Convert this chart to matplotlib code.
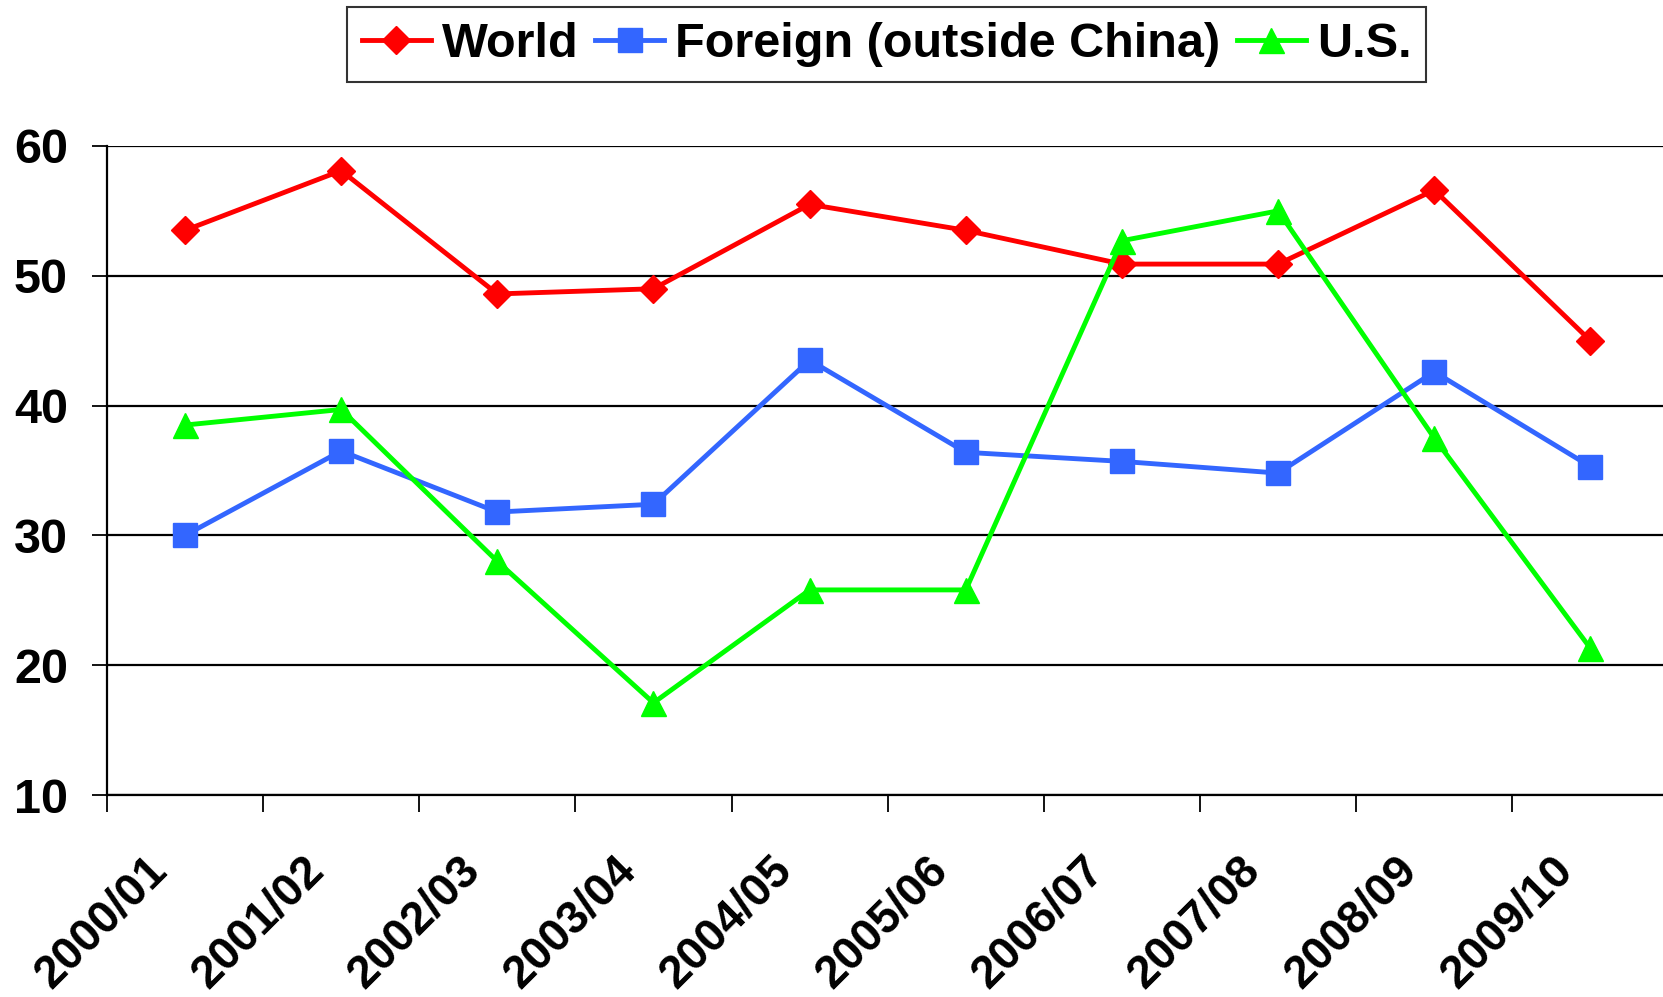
import matplotlib
matplotlib.use("Agg")
from matplotlib import pyplot as plt
from matplotlib.transforms import ScaledTranslation

seasons = ['2000/01', '2001/02', '2002/03', '2003/04', '2004/05',
           '2005/06', '2006/07', '2007/08', '2008/09', '2009/10']
world = [53.5, 58.1, 48.6, 49.0, 55.5, 53.5, 50.9, 50.9, 56.6, 45.0]
foreign = [30.0, 36.5, 31.8, 32.4, 43.5, 36.4, 35.7, 34.8, 42.6, 35.3]
us = [38.5, 39.7, 28.0, 17.1, 25.8, 25.8, 52.7, 55.0, 37.5, 21.3]

plt.rcParams['font.family'] = ['Liberation Sans', 'DejaVu Sans']
plt.rcParams['font.weight'] = 'bold'

fig = plt.figure(figsize=(16.63, 9.97), dpi=100)
ax = fig.add_axes([0.0643, 0.2026, 0.939, 0.651])

x = [i + 0.5 for i in range(len(seasons))]
ax.plot(x, world, color='#FF0000', lw=3.5, marker='D', ms=14, label='World')
ax.plot(x, foreign, color='#3366FF', lw=3.5, marker='s', ms=17,
        label='Foreign (outside China)')
ax.plot(x, us, color='#00FF00', lw=3.5, marker='^', ms=18, label='U.S.')

ax.set_xlim(0, len(seasons))
ax.set_ylim(10, 60)
ax.set_yticks([10, 20, 30, 40, 50, 60])
ax.grid(axis='y', color='black', lw=1.6)
ax.set_axisbelow(True)

for s in ['top', 'right']:
    ax.spines[s].set_visible(False)
for s in ['left', 'bottom']:
    ax.spines[s].set_linewidth(1.6)

ax.tick_params(axis='y', length=11, width=1.3, pad=17, labelsize=35)

# tick marks between categories, labels at category centres
ax.set_xticks(range(len(seasons) + 1))
ax.set_xticklabels([])
ax.tick_params(axis='x', which='major', length=12, width=1.3, direction='out')
ax.set_xticks(x, minor=True)
ax.set_xticklabels(seasons, minor=True, rotation=45, ha='right', va='top',
                   rotation_mode='anchor', fontsize=33)
ax.tick_params(axis='x', which='minor', length=0, pad=38)
off = ScaledTranslation(-0.40, 0, fig.dpi_scale_trans)
for lab in ax.get_xticklabels(minor=True):
    lab.set_transform(lab.get_transform() + off)

leg = fig.legend(loc='upper center', bbox_to_anchor=(0.5331, 0.9926), ncol=3,
                 fontsize=35, frameon=True, fancybox=False, edgecolor='black',
                 handlelength=1.42, handletextpad=0.22, columnspacing=0.35,
                 borderpad=0.3, borderaxespad=0)
leg.get_frame().set_linewidth(1.5)

fig.savefig('out.png', dpi=100)
